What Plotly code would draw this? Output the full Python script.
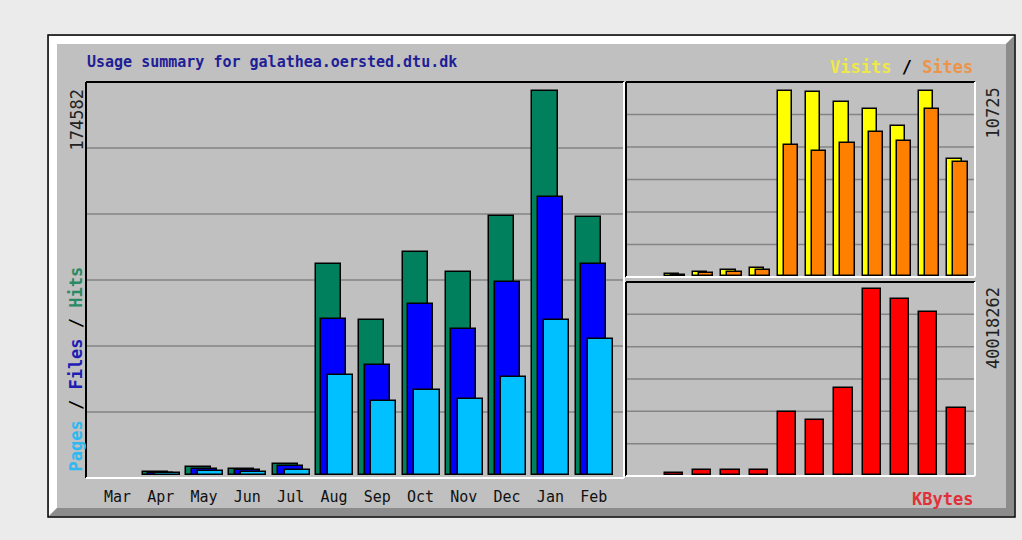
import plotly.graph_objects as go

# monthly usage figures
months = ["Mar", "Apr", "May", "Jun", "Jul", "Aug", "Sep", "Oct", "Nov", "Dec", "Jan", "Feb"]
hits = [None, 1200, 3800, 2700, 5000, 95900, 70500, 101400, 92300, 117700, 174582, 117300]
files = [None, 1000, 2700, 2300, 4000, 70900, 50000, 77700, 66400, 87700, 126400, 95900]
pages = [None, 700, 1800, 1500, 2300, 45500, 33600, 38600, 34500, 44500, 70500, 61800]
visits = [None, 120, 250, 350, 480, 10725, 10626, 10070, 9641, 8655, 10725, 6765]
sites = [None, 80, 155, 230, 350, 7554, 7246, 7670, 8330, 7786, 9664, 6591]
kbytes = [None, 400000, 1000000, 1000000, 1000000, 13510000, 11850000, 18810000,
          40018262, 37930000, 35060000, 14370000]

W, H = 1022, 540
MONO = "DejaVu Sans Mono"


def px_x(x):
    return x / W


def px_y(y):
    return 1 - y / H


fig = go.Figure()

outline = dict(color="black", width=1.5)

# main panel: hits / files / pages
for vals, col, off in [(hits, "#00805c", -0.416), (files, "#0000ff", -0.29), (pages, "#00c0ff", -0.14)]:
    fig.add_trace(go.Bar(x=months, y=vals, width=0.58, offset=off, marker=dict(color=col, line=outline),
                         xaxis="x", yaxis="y", showlegend=False, hoverinfo="x+y"))

# top right: visits / sites
for vals, col, off in [(visits, "#ffff00", -0.356), (sites, "#ff8000", -0.144)]:
    fig.add_trace(go.Bar(x=months, y=vals, width=0.5, offset=off, marker=dict(color=col, line=outline),
                         xaxis="x2", yaxis="y2", showlegend=False, hoverinfo="x+y"))

# bottom right: kbytes
fig.add_trace(go.Bar(x=months, y=kbytes, width=0.65, offset=-0.36, marker=dict(color="#ff0000", line=outline),
                     xaxis="x3", yaxis="y3", showlegend=False, hoverinfo="x+y"))

hidden = dict(showgrid=False, zeroline=False, showticklabels=False, ticks="", showline=False, fixedrange=True)

fig.update_layout(
    width=W, height=H, margin=dict(l=0, r=0, t=0, b=0),
    paper_bgcolor="#ebebeb", plot_bgcolor="rgba(0,0,0,0)",
    barmode="overlay", bargap=0,
    xaxis=dict(domain=[px_x(86), px_x(624)], type="category", range=[-0.727, 11.70],
               showgrid=False, zeroline=False, ticks="", showline=False, fixedrange=True,
               tickfont=dict(family=MONO, size=15, color="#111"), ticklabelstandoff=8),
    yaxis=dict(domain=[px_y(478), px_y(82)], range=[-1364, 178674], **hidden),
    xaxis2=dict(domain=[px_x(626), px_x(975)], type="category", range=[-0.735, 11.62], anchor="y2", **hidden),
    yaxis2=dict(domain=[px_y(277), px_y(82)], range=[-58, 11229], anchor="x2", **hidden),
    xaxis3=dict(domain=[px_x(626), px_x(975)], type="category", range=[-0.735, 11.62], anchor="y3", **hidden),
    yaxis3=dict(domain=[px_y(476), px_y(282)], range=[-215500, 41591000], anchor="x3", **hidden),
)

shapes = []
# outer 3d frame
shapes.append(dict(type="rect", xref="paper", yref="paper", x0=px_x(48), x1=px_x(1015), y0=px_y(517), y1=px_y(35),
                   fillcolor="#c0c0c0", line=dict(color="black", width=1.5), layer="below"))
hl = f"M {px_x(49)},{px_y(36)} L {px_x(1014)},{px_y(36)} L {px_x(1006)},{px_y(44)} L {px_x(57)},{px_y(44)} " \
     f"L {px_x(57)},{px_y(508)} L {px_x(49)},{px_y(516)} Z"
shapes.append(dict(type="path", xref="paper", yref="paper", path=hl, fillcolor="white", line=dict(width=0), layer="below"))
sh = f"M {px_x(1014)},{px_y(36)} L {px_x(1014)},{px_y(516)} L {px_x(49)},{px_y(516)} L {px_x(57)},{px_y(508)} " \
     f"L {px_x(1006)},{px_y(508)} L {px_x(1006)},{px_y(44)} Z"
shapes.append(dict(type="path", xref="paper", yref="paper", path=sh, fillcolor="#8c8c8c", line=dict(width=0), layer="below"))

# gridlines and inset borders for each panel
for xa, ya in [("x", "y"), ("x2", "y2"), ("x3", "y3")]:
    for k in range(1, 6):
        shapes.append(dict(type="line", xref=f"{xa} domain", yref=f"{ya} domain", x0=0, x1=1, y0=k / 6, y1=k / 6,
                           line=dict(color="#848484", width=1.5), layer="below"))
    shapes.append(dict(type="line", xref=f"{xa} domain", yref=f"{ya} domain", x0=0, x1=1, y0=1, y1=1,
                       line=dict(color="black", width=2)))
    shapes.append(dict(type="line", xref=f"{xa} domain", yref=f"{ya} domain", x0=0, x1=0, y0=0, y1=1,
                       line=dict(color="black", width=2)))
    shapes.append(dict(type="line", xref=f"{xa} domain", yref=f"{ya} domain", x0=0, x1=1, y0=0, y1=0,
                       line=dict(color="white", width=2)))
    shapes.append(dict(type="line", xref=f"{xa} domain", yref=f"{ya} domain", x0=1, x1=1, y0=0, y1=1,
                       line=dict(color="white", width=2)))
fig.update_layout(shapes=shapes)

ann = []
ann.append(dict(text="Usage summary for galathea.oersted.dtu.dk", x=px_x(85), y=px_y(62), xanchor="left",
                yanchor="middle", font=dict(family=MONO, size=15, color="#1e1e96", weight="bold")))
ann.append(dict(text="<span style='color:#eee84a'>Visits</span> / <span style='color:#ec9448'>Sites</span>",
                x=px_x(975), y=px_y(67), xanchor="right", yanchor="middle",
                font=dict(family=MONO, size=17, color="black", weight="bold")))
ann.append(dict(text="KBytes", x=px_x(975), y=px_y(499), xanchor="right", yanchor="middle",
                font=dict(family=MONO, size=17, color="#e0303a", weight="bold")))
ann.append(dict(text="<span style='color:#30b8f0'>Pages</span> / <span style='color:#1e1eb4'>Files</span>"
                     " / <span style='color:#2a8a64'>Hits</span>",
                x=px_x(75), y=px_y(474), xanchor="center", yanchor="bottom", textangle=-90,
                font=dict(family=MONO, size=17, color="black", weight="bold")))
ann.append(dict(text=f"{max(h for h in hits if h)}", x=px_x(76), y=px_y(88), xanchor="center", yanchor="top",
                textangle=-90, font=dict(family=MONO, size=17, color="#222")))
ann.append(dict(text=f"{max(v for v in visits if v)}", x=px_x(993), y=px_y(86), xanchor="center", yanchor="top",
                textangle=-90, font=dict(family=MONO, size=17, color="#222")))
ann.append(dict(text=f"{max(k for k in kbytes if k)}", x=px_x(993), y=px_y(285), xanchor="center", yanchor="top",
                textangle=-90, font=dict(family=MONO, size=17, color="#222")))
for a in ann:
    a.update(xref="paper", yref="paper", showarrow=False)
fig.update_layout(annotations=ann)

# drop the default body margin so the figure sits at the window origin
fig.write_html("out.html", config={"displayModeBar": False},
               post_script="document.body.style.margin='0';")
